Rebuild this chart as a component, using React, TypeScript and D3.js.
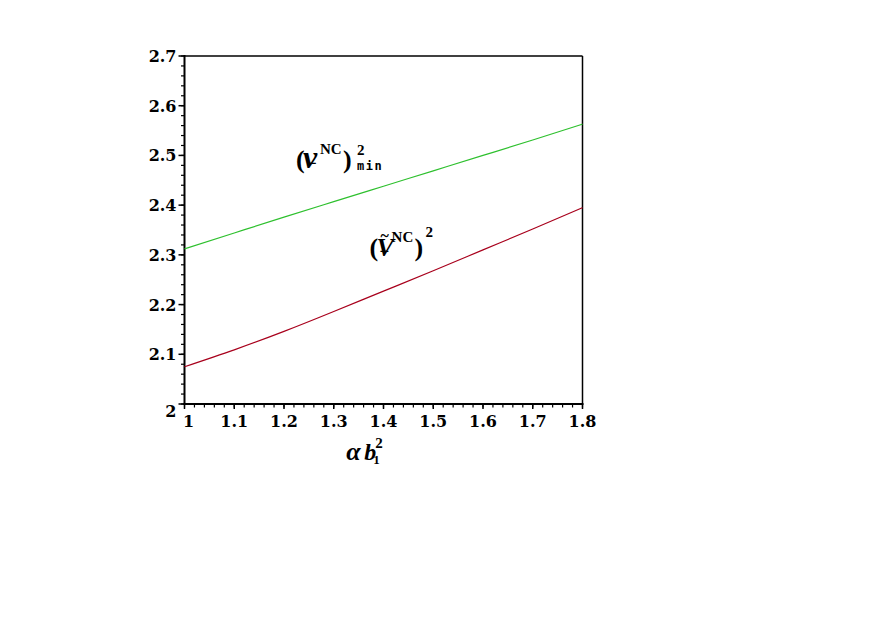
import React from "react";
import * as d3 from "d3";

// ---- data ----
const xValues = [1.0, 1.1, 1.2, 1.3, 1.4, 1.5, 1.6, 1.7, 1.8];
const greenValues = [2.312, 2.344, 2.376, 2.407, 2.438, 2.469, 2.5, 2.531, 2.563];
const redValues = [2.075, 2.109, 2.146, 2.186, 2.227, 2.268, 2.31, 2.352, 2.395];
const xTickValues = [1, 1.1, 1.2, 1.3, 1.4, 1.5, 1.6, 1.7, 1.8];
const xTickLabels = ["1", "1.1", "1.2", "1.3", "1.4", "1.5", "1.6", "1.7", "1.8"];
const yTickValues = [2, 2.1, 2.2, 2.3, 2.4, 2.5, 2.6, 2.7];
const yTickLabels = ["2", "2.1", "2.2", "2.3", "2.4", "2.5", "2.6", "2.7"];
const xDomain = [1, 1.8];
const yDomain = [2, 2.7];
const greenLabelAt = [1.224, 2.475];
const redLabelAt = [1.372, 2.298];
const xLabelAt = 1.325;

const W = 873;
const H = 628;
const left = 184.5;
const right = 582.5;
const top = 56;
const bottom = 404;

const tickFont = "'DejaVu Serif', serif";
const mathFont = "'Liberation Serif', 'Times New Roman', serif";

export default function App() {
  const x = d3.scaleLinear().domain(xDomain).range([left, right]);
  const y = d3.scaleLinear().domain(yDomain).range([bottom, top]);

  const line = d3
    .line<number>()
    .x((_, i) => x(xValues[i]))
    .y((d) => y(d))
    .curve(d3.curveNatural);

  const xMinor = d3.range(0, 41).map((i) => xDomain[0] + i * 0.02);
  const yMinor = d3.range(0, 36).map((i) => yDomain[0] + i * 0.02);

  const gx = x(greenLabelAt[0]);
  const gy = y(greenLabelAt[1]);
  const rx = x(redLabelAt[0]);
  const ry = y(redLabelAt[1]);
  const ax = x(xLabelAt);
  const ay = bottom + 56;

  return (
    <svg
      width={W}
      height={H}
      style={{ position: "absolute", left: 0, top: 0, background: "#fff" }}
    >
      <rect x={0} y={0} width={W} height={H} fill="#fff" />
      {/* frame */}
      <line x1={left} x2={right} y1={top} y2={top} stroke="#000" strokeWidth={1.5} />
      <line x1={right} x2={right} y1={top} y2={bottom} stroke="#000" strokeWidth={1.5} />
      <line x1={left} x2={left} y1={top - 1} y2={bottom + 1} stroke="#000" strokeWidth={2} />
      <line x1={left - 1} x2={right + 1} y1={bottom} y2={bottom} stroke="#000" strokeWidth={2} />

      {/* minor ticks */}
      {yMinor.map((v, i) => (
        <line key={"ym" + i} x1={left - 3.5} x2={left} y1={y(v)} y2={y(v)} stroke="#000" strokeWidth={1.2} />
      ))}
      {xMinor.map((v, i) => (
        <line key={"xm" + i} x1={x(v)} x2={x(v)} y1={bottom} y2={bottom + 3.5} stroke="#000" strokeWidth={1.2} />
      ))}
      {/* major ticks + labels */}
      {yTickValues.map((v, i) => (
        <g key={"yt" + i}>
          <line x1={left - 6} x2={left} y1={y(v)} y2={y(v)} stroke="#000" strokeWidth={1.5} />
          <text
            x={left - 8}
            y={y(v) + (i === 0 ? 12.5 : 6)}
            textAnchor="end"
            fontFamily={tickFont}
            fontWeight="bold"
            fontSize={16}
            fill="#000"
          >
            {yTickLabels[i]}
          </text>
        </g>
      ))}
      {xTickValues.map((v, i) => (
        <g key={"xt" + i}>
          <line x1={x(v)} x2={x(v)} y1={bottom} y2={bottom + 5} stroke="#000" strokeWidth={1.5} />
          <text
            x={x(v) + (i === 0 ? 4 : 0)}
            y={bottom + 23}
            textAnchor="middle"
            fontFamily={tickFont}
            fontWeight="bold"
            fontSize={16}
            fill="#000"
          >
            {xTickLabels[i]}
          </text>
        </g>
      ))}

      {/* curves */}
      <path d={line(greenValues) || ""} fill="none" stroke="#2ec02e" strokeWidth={1.2} />
      <path d={line(redValues) || ""} fill="none" stroke="#a8001c" strokeWidth={1.2} />

      {/* green label: (nu_-^NC)^2_min */}
      <text fontFamily={mathFont} fontWeight="bold" fill="#000" fontSize={26}>
        <tspan x={gx} y={gy}>(</tspan>
        <tspan x={gx + 7} y={gy} fontSize={32} fontStyle="italic">ν</tspan>
        <tspan x={gx + 11} y={gy + 1} fontSize={17}>−</tspan>
        <tspan x={gx + 24} y={gy - 14} fontSize={15}>NC</tspan>
        <tspan x={gx + 47} y={gy}>)</tspan>
        <tspan x={gx + 61} y={gy - 13} fontSize={15}>2</tspan>
        <tspan x={gx + 61} y={gy + 2} fontSize={12} fontFamily="'DejaVu Sans Mono', monospace" letterSpacing={1.5}>min</tspan>
      </text>

      {/* red label: (tilde V_-^NC)^2 */}
      <text fontFamily={mathFont} fontWeight="bold" fill="#000" fontSize={26}>
        <tspan x={rx} y={ry}>(</tspan>
        <tspan x={rx + 7} y={ry} fontStyle="italic">V</tspan>
        <tspan x={rx + 11} y={ry - 15} fontSize={16}>~</tspan>
        <tspan x={rx + 10} y={ry + 1} fontSize={17}>−</tspan>
        <tspan x={rx + 22} y={ry - 14} fontSize={15}>NC</tspan>
        <tspan x={rx + 45} y={ry}>)</tspan>
        <tspan x={rx + 56} y={ry - 19} fontSize={15}>2</tspan>
      </text>

      {/* x axis label: alpha b_1^2 */}
      <text fontFamily={mathFont} fontWeight="bold" fill="#000" fontSize={26}>
        <tspan x={ax} y={ay} fontStyle="italic">α</tspan>
        <tspan x={ax + 18} y={ay} fontSize={24} fontStyle="italic">b</tspan>
        <tspan x={ax + 27} y={ay + 4} fontSize={13}>1</tspan>
        <tspan x={ax + 29} y={ay - 12} fontSize={15}>2</tspan>
      </text>
    </svg>
  );
}
